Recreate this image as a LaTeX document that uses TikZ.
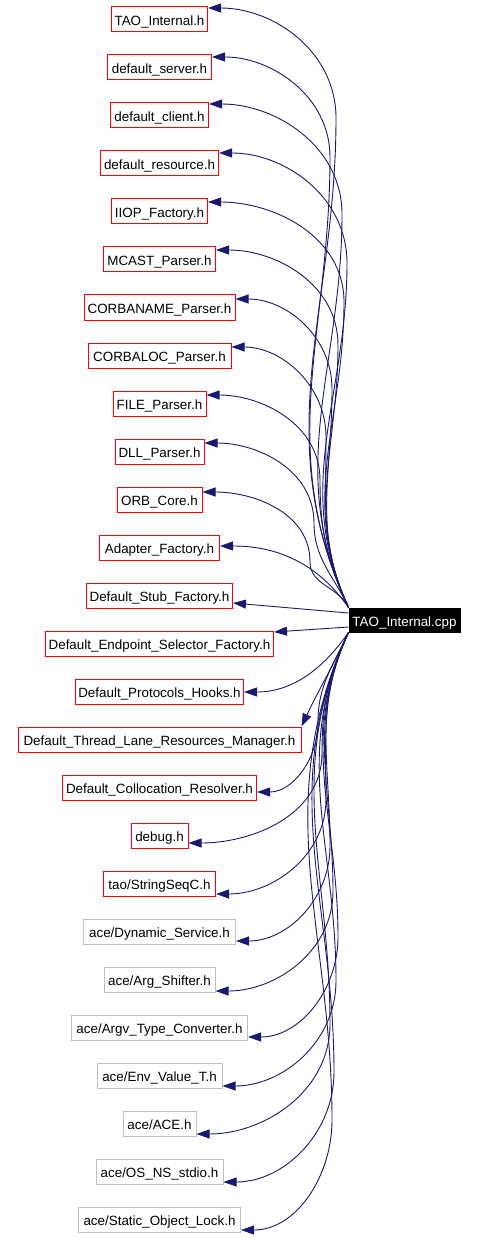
\documentclass[tikz,border=0pt]{standalone}
\usepackage{fontspec}
\setmainfont{Liberation Sans}
\usetikzlibrary{arrows.meta}
\definecolor{edgeblue}{HTML}{191970}
\definecolor{extgray}{HTML}{BFBFBF}

\begin{document}
\begin{tikzpicture}[x=1pt,y=1pt,
  hdr/.style={draw=red,line width=1pt,minimum height=25pt,inner sep=0pt,
    text height=15pt,text depth=3pt,font=\fontsize{13.4}{15}\selectfont},
  ext/.style={hdr,draw=extgray},
  src/.style={hdr,draw=black,fill=black,text=white},
  dep/.style={draw=edgeblue,line width=0.9pt,{Triangle[length=13pt,width=9pt]}-}
  ]
  \useasboundingbox (0,0) rectangle (478,-1238);

  \node[src,minimum width=111pt,minimum height=24pt] (cpp) at (404.5,-620) {TAO\_Internal.cpp};
  % one header every 48 units, top to bottom
  \foreach \i/\w/\s/\t in {1/96/hdr/TAO\_Internal.h, 2/104/hdr/default\_server.h,
      3/98/hdr/default\_client.h, 4/118/hdr/default\_resource.h,
      5/96/hdr/IIOP\_Factory.h, 6/112/hdr/MCAST\_Parser.h,
      7/151/hdr/CORBANAME\_Parser.h, 8/143/hdr/CORBALOC\_Parser.h,
      9/93/hdr/FILE\_Parser.h, 10/89/hdr/DLL\_Parser.h,
      11/85/hdr/ORB\_Core.h, 12/120/hdr/Adapter\_Factory.h,
      13/146/hdr/Default\_Stub\_Factory.h, 14/228/hdr/Default\_Endpoint\_Selector\_Factory.h,
      15/168/hdr/Default\_Protocols\_Hooks.h, 16/283/hdr/Default\_Thread\_Lane\_Resources\_Manager.h,
      17/194/hdr/Default\_Collocation\_Resolver.h, 18/57/hdr/debug.h,
      19/112/hdr/{tao/StringSeqC.h}, 20/152/ext/{ace/Dynamic\_Service.h},
      21/111/ext/{ace/Arg\_Shifter.h}, 22/176/ext/{ace/Argv\_Type\_Converter.h},
      23/125/ext/{ace/Env\_Value\_T.h}, 24/73/ext/{ace/ACE.h},
      25/127/ext/{ace/OS\_NS\_stdio.h}, 26/162/ext/{ace/Static\_Object\_Lock.h}} {
    \node[\s,minimum width=\w pt] (h\i) at (159.5,-19.5-48*\i+48) {\t};
  }

  % headers above the source: run down a lane into its top corner
  \foreach \i/\dy/\lane/\drop in {1/11.5/336/110, 2/10.5/330/100, 3/11.5/342/110,
      4/10.5/347/110, 5/9.5/344/100, 6/9.5/338/95, 7/8.5/332/90, 8/8.5/326/90,
      9/8.5/320/85, 10/8.5/314/80, 11/7.5/310/70} {
    \draw[dep] ([yshift=\dy pt]h\i.east) to[out=0,in=90] (\lane,-19.5-48*\i+48+\dy-\drop)
      to[out=-90,in=115] (cpp.north west);
  }
  \draw[dep] ([yshift=1.5pt]h12.east) to[out=0,in=125] (cpp.north west);
  \draw[dep] ([yshift=-7.5pt]h13.east) -- ([yshift=7pt]cpp.west);
  \draw[dep] ([yshift=11.5pt]h14.east) -- ([yshift=-7pt]cpp.west);
  \draw[dep] ([yshift=-0.5pt]h15.east) to[out=0,in=-125] (cpp.south west);
  \draw[dep] (h16.north east) to[out=65,in=-115] (cpp.south west);
  % headers below the source
  \foreach \i/\dy/\lane/\rise in {17/-4.5/318/70, 18/-7.5/322/90, 19/-10.5/326/95,
      20/-9.5/330/95, 21/-11.5/333/100, 22/-9.5/338/100, 23/-10.5/336/105,
      24/-10.5/330/110, 25/-10.5/334/110, 26/-10.5/332/110} {
    \draw[dep] ([yshift=\dy pt]h\i.east) to[out=0,in=-90] (\lane,-19.5-48*\i+48+\dy+\rise)
      to[out=90,in=-115] (cpp.south west);
  }
\end{tikzpicture}
\end{document}
